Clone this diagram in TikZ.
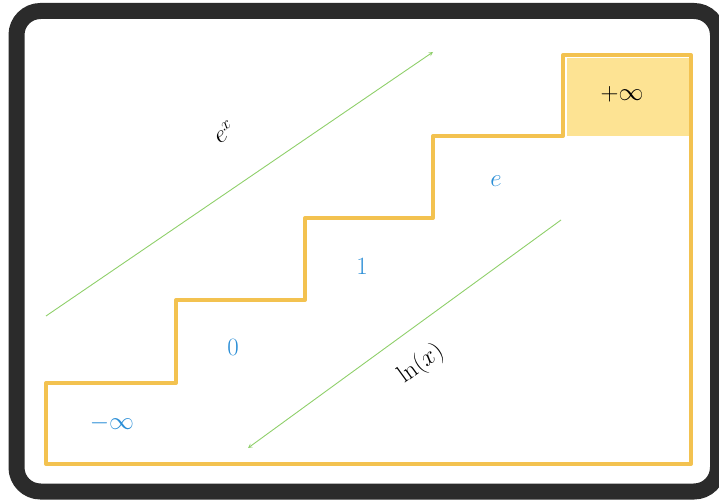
\documentclass[tikz,border=0pt]{standalone}
\usepackage{amsmath}
\usepackage{amssymb}
\usepackage{xcolor}
\usetikzlibrary{calc}

\definecolor{frame}{HTML}{2B2B2B}
\definecolor{stair}{HTML}{F3C250}
\definecolor{topfill}{HTML}{FDE393}
\definecolor{valblue}{HTML}{2B8ED6}
\definecolor{arrgreen}{HTML}{8FCF6A}

\begin{document}
\begin{tikzpicture}[x=1pt, y=-1pt,
    val/.style={text=valblue, font=\fontsize{26}{30}\selectfont},
    lab/.style={font=\fontsize{26}{30}\selectfont},
    flow/.style={->, >=stealth, arrgreen, line width=0.9pt}]
  \useasboundingbox (0,0) rectangle (719,502);

  \coordinate (S0) at (46,464);
  \coordinate (S1) at (46,383);
  \coordinate (S2) at (176,383);
  \coordinate (S3) at (176,300);
  \coordinate (S4) at (305,300);
  \coordinate (S5) at (305,218);
  \coordinate (S6) at (433,218);
  \coordinate (S7) at (433,136);
  \coordinate (S8) at (563,136);
  \coordinate (S9) at (563,55);
  \coordinate (S10) at (691,55);
  \coordinate (S11) at (691,464);

  \draw[frame, line width=16pt, rounded corners=24pt] (16.5,11) rectangle (718,491.5);

  \fill[topfill] (567,58) rectangle (689,136);
  \draw[stair, line width=4pt, line join=round]
    (S0) -- (S1) -- (S2) -- (S3) -- (S4) -- (S5) -- (S6) -- (S7)
    -- (S8) -- (S9) -- (S10) -- (S11) -- cycle;

  \node[val] (minf) at (112,423) {$-\infty$};
  \node[val] (zero) at (233,347) {$0$};
  \node[val] (one) at (362,266) {$1$};
  \node[val] (ee) at (496,181) {$e$};
  \node[lab] (pinf) at (622,94) {$+\infty$};

  \coordinate (up0) at (46,316);
  \coordinate (up1) at (433,52);
  \coordinate (dn0) at (561,220);
  \coordinate (dn1) at (248,448);
  \draw[flow] (up0) -- (up1);
  \draw[flow] (dn0) -- (dn1);

  \node[lab, rotate=34, inner sep=0pt] (expx) at (224,132) {$e^x$};
  \node[lab, rotate=36, inner sep=0pt] (lnx) at (421,364) {$\ln(x)$};
\end{tikzpicture}
\end{document}
